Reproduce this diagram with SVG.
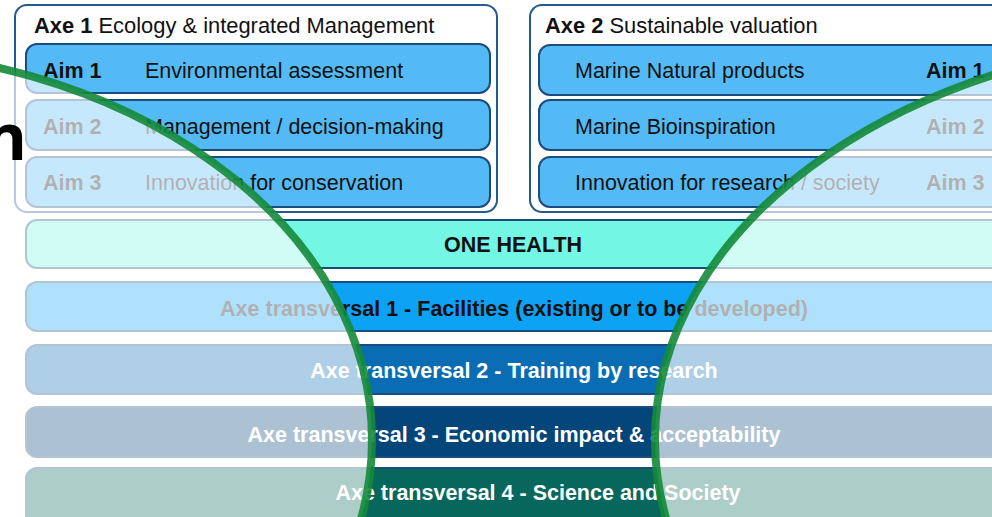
<svg xmlns="http://www.w3.org/2000/svg" width="992" height="517" viewBox="0 0 992 517">
<style>
  text { font-family: "Liberation Sans", Arial, Helvetica, sans-serif; font-size: 21.5px; fill: #111; }
  .t { font-size: 21.9px; }
  .b { font-weight: bold; }
  .w { fill: #ffffff; font-weight: bold; }
  .box { fill: #ffffff; stroke: #245a90; stroke-width: 2; }
  .row { fill: #54BAF5; stroke: #1A4C7E; stroke-width: 2; }
  .bar { stroke: #1A4C7E; stroke-width: 2; }
  .veil { fill: #ffffff; fill-opacity: 0.67; stroke: #14893A; stroke-opacity: 0.9; stroke-width: 8; }
  .big { font-family: "Open Sans", "Liberation Sans", sans-serif; font-weight: bold; font-size: 65px; fill: #000; }
</style>
<rect width="992" height="517" fill="#ffffff"/>

<g id="axe1">
  <rect class="box" x="15" y="5" width="482" height="207" rx="12"/>
  <text class="t" x="34" y="33"><tspan class="b">Axe 1</tspan> Ecology &amp; integrated Management</text>
</g>
<g id="axe1-aim1">
  <rect class="row" x="26" y="44" width="464" height="49" rx="11"/>
  <text class="b" x="43" y="78">Aim 1</text>
  <text x="145" y="78">Environmental assessment</text>
</g>
<g id="axe1-aim2">
  <rect class="row" x="26" y="100" width="464" height="50" rx="11"/>
  <text class="b" x="43" y="134">Aim 2</text>
  <text x="145" y="134">Management / decision-making</text>
</g>
<g id="axe1-aim3">
  <rect class="row" x="26" y="157" width="464" height="50" rx="11"/>
  <text class="b" x="43" y="190">Aim 3</text>
  <text x="145" y="190">Innovation for conservation</text>
</g>

<g id="axe2">
  <rect class="box" x="530" y="5" width="490" height="207" rx="12"/>
  <text class="t" x="545" y="33"><tspan class="b">Axe 2</tspan> Sustainable valuation</text>
</g>
<g id="axe2-aim1">
  <rect class="row" x="539" y="45" width="470" height="50" rx="11"/>
  <text x="575" y="78">Marine Natural products</text>
  <text class="b" x="926" y="78">Aim 1</text>
</g>
<g id="axe2-aim2">
  <rect class="row" x="539" y="100" width="470" height="50" rx="11"/>
  <text x="575" y="134">Marine Bioinspiration</text>
  <text class="b" x="926" y="134">Aim 2</text>
</g>
<g id="axe2-aim3">
  <rect class="row" x="539" y="157" width="470" height="50" rx="11"/>
  <text x="575" y="190">Innovation for research / society</text>
  <text class="b" x="926" y="190">Aim 3</text>
</g>

<g id="one-health">
  <rect class="bar" x="26" y="220" width="980" height="48" rx="11" fill="#73F6E3"/>
  <text class="b" x="513" y="252" text-anchor="middle">ONE HEALTH</text>
</g>
<g id="transversal-1">
  <rect class="bar" x="26" y="282" width="980" height="49" rx="11" fill="#0EA2F5"/>
  <text class="b" x="514" y="316" text-anchor="middle">Axe transversal 1 - Facilities (existing or to be developed)</text>
</g>
<g id="transversal-2">
  <rect class="bar" x="26" y="345" width="980" height="49" rx="11" fill="#0A6DB3"/>
  <text class="w" x="514" y="378" text-anchor="middle">Axe transversal 2 - Training by research</text>
</g>
<g id="transversal-3">
  <rect class="bar" x="26" y="407" width="980" height="50" rx="11" fill="#05467A"/>
  <text class="w" x="514" y="442" text-anchor="middle">Axe transversal 3 - Economic impact &amp; acceptability</text>
</g>
<g id="transversal-4">
  <rect class="bar" x="26" y="468" width="980" height="70" rx="11" fill="#08675C"/>
  <text class="w" x="538" y="500" text-anchor="middle">Axe transversal 4 - Science and Society</text>
</g>

<g id="connectors"></g>

<g id="overlay">
  <ellipse class="veil" cx="-166" cy="440" rx="538" ry="391"/>
  <ellipse class="veil" cx="1246" cy="440" rx="591" ry="404"/>
</g>

<text class="big" x="27" y="160" text-anchor="end">n</text>
</svg>
